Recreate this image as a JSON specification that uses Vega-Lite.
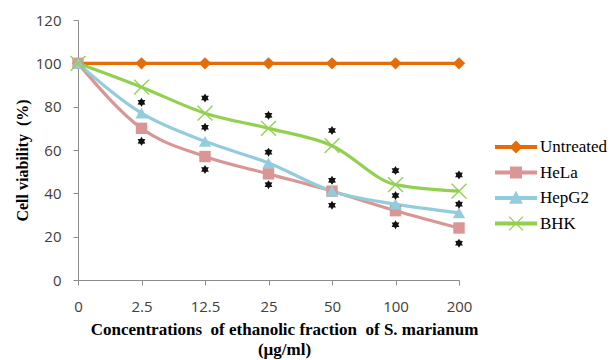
{
  "$schema": "https://vega.github.io/schema/vega-lite/v6.json",
  "width": 381,
  "height": 260,
  "autosize": {"type": "none"},
  "padding": {"left": 78, "top": 20, "right": 152, "bottom": 80},
  "background": "white",
  "config": {"view": {"stroke": null}},
  "datasets": {
    "main": [
      {"conc": "0", "series": "Untreated", "v": 100},
      {"conc": "2.5", "series": "Untreated", "v": 100},
      {"conc": "12.5", "series": "Untreated", "v": 100},
      {"conc": "25", "series": "Untreated", "v": 100},
      {"conc": "50", "series": "Untreated", "v": 100},
      {"conc": "100", "series": "Untreated", "v": 100},
      {"conc": "200", "series": "Untreated", "v": 100},
      {"conc": "0", "series": "HeLa", "v": 100},
      {"conc": "2.5", "series": "HeLa", "v": 70},
      {"conc": "12.5", "series": "HeLa", "v": 57},
      {"conc": "25", "series": "HeLa", "v": 49},
      {"conc": "50", "series": "HeLa", "v": 41},
      {"conc": "100", "series": "HeLa", "v": 32},
      {"conc": "200", "series": "HeLa", "v": 24},
      {"conc": "0", "series": "HepG2", "v": 100},
      {"conc": "2.5", "series": "HepG2", "v": 77},
      {"conc": "12.5", "series": "HepG2", "v": 64},
      {"conc": "25", "series": "HepG2", "v": 54},
      {"conc": "50", "series": "HepG2", "v": 41},
      {"conc": "100", "series": "HepG2", "v": 35},
      {"conc": "200", "series": "HepG2", "v": 31},
      {"conc": "0", "series": "BHK", "v": 100},
      {"conc": "2.5", "series": "BHK", "v": 89},
      {"conc": "12.5", "series": "BHK", "v": 77},
      {"conc": "25", "series": "BHK", "v": 70},
      {"conc": "50", "series": "BHK", "v": 62},
      {"conc": "100", "series": "BHK", "v": 44},
      {"conc": "200", "series": "BHK", "v": 41}
    ],
    "stars": [
      {"conc": "2.5", "v": 82},
      {"conc": "2.5", "v": 64},
      {"conc": "12.5", "v": 84},
      {"conc": "12.5", "v": 70.5},
      {"conc": "12.5", "v": 51},
      {"conc": "25", "v": 76},
      {"conc": "25", "v": 59},
      {"conc": "25", "v": 44},
      {"conc": "50", "v": 69},
      {"conc": "50", "v": 46},
      {"conc": "50", "v": 34.5},
      {"conc": "100", "v": 50.5},
      {"conc": "100", "v": 39},
      {"conc": "100", "v": 25.5},
      {"conc": "200", "v": 48.5},
      {"conc": "200", "v": 35},
      {"conc": "200", "v": 17}
    ]
  },
  "encoding": {
    "x": {
      "field": "conc",
      "type": "ordinal",
      "sort": ["0", "2.5", "12.5", "25", "50", "100", "200"],
      "scale": {"type": "point", "padding": 0},
      "axis": {
        "title": ["Concentrations\u00a0 of ethanolic fraction\u00a0 of S. marianum", "(µg/ml)"],
        "titleFont": "Liberation Serif",
        "titleFontWeight": "bold",
        "titleFontSize": 17,
        "titleColor": "black",
        "titleLineHeight": 20,
        "titleX": 206,
        "titleAlign": "center",
        "titlePadding": 7,
        "labelFont": "Open Sans",
        "labelFontSize": 15,
        "labelColor": "#404040",
        "labelAngle": 0,
        "labelPadding": 14,
        "domainColor": "#8c8c8c",
        "tickColor": "#8c8c8c",
        "tickSize": 5,
        "grid": false
      }
    },
    "y": {
      "field": "v",
      "type": "quantitative",
      "scale": {"domain": [0, 120], "nice": false, "zero": true},
      "axis": {
        "values": [0, 20, 40, 60, 80, 100, 120],
        "title": "Cell viability\u00a0 (%)",
        "titleFont": "Liberation Serif",
        "titleFontWeight": "bold",
        "titleFontSize": 16,
        "titleColor": "black",
        "titleX": -56,
        "titleY": 140,
        "titleAlign": "center",
        "titleBaseline": "middle",
        "labelFont": "Open Sans",
        "labelFontSize": 15,
        "labelColor": "#404040",
        "labelPadding": 12,
        "domainColor": "#8c8c8c",
        "tickColor": "#8c8c8c",
        "tickSize": 5,
        "grid": false
      }
    }
  },
  "layer": [
    {
      "data": {"name": "main"},
      "transform": [{"filter": "datum.conc == '0'"}],
      "mark": {"type": "point", "filled": true, "opacity": 0},
      "encoding": {
        "color": {
          "field": "series",
          "type": "nominal",
          "scale": {"domain": ["Untreated", "HeLa", "HepG2", "BHK"], "range": ["#E46C0A", "#D99694", "#93CDDD", "#92D050"]},
          "legend": {"title": null, "orient": "none", "legendX": 427.5, "legendY": 116.5, "symbolSize": 441, "symbolOpacity": 1, "symbolStrokeWidth": 0, "labelFont": "Liberation Serif", "labelFontSize": 17, "labelColor": "black", "labelOffset": 13.5, "rowPadding": 6.5}
        },
        "shape": {
          "field": "series",
          "type": "nominal",
          "scale": {
            "domain": ["Untreated", "HeLa", "HepG2", "BHK"],
            "range": [
              "M-2,-0.19H2V0.19H-2Z M0,-0.62L0.62,0L0,0.62L-0.62,0Z",
              "M-2,-0.19H2V0.19H-2Z M-0.57,-0.57H0.57V0.57H-0.57Z",
              "M-2,-0.19H2V0.19H-2Z M0,-0.68L0.66,0.55H-0.66Z",
              "M-2,-0.19H2V0.19H-2Z M-0.7,-0.62L-0.62,-0.7L0.7,0.62L0.62,0.7Z M0.62,-0.7L0.7,-0.62L-0.62,0.7L-0.7,0.62Z"
            ]
          },
          "legend": {"title": null, "orient": "none", "legendX": 427.5, "legendY": 116.5, "symbolSize": 441, "symbolOpacity": 1, "symbolStrokeWidth": 0, "labelFont": "Liberation Serif", "labelFontSize": 17, "labelColor": "black", "labelOffset": 13.5, "rowPadding": 6.5}
        }
      }
    },
    {
      "data": {"name": "main"},
      "mark": {"type": "line", "strokeWidth": 3.2, "interpolate": "monotone"},
      "encoding": {
        "color": {"field": "series", "type": "nominal", "legend": null}
      }
    },
    {
      "data": {"name": "main"},
      "transform": [{"filter": "datum.series == 'Untreated'"}],
      "mark": {"type": "point", "shape": "diamond", "filled": true, "opacity": 1, "color": "#E46C0A", "size": 150}
    },
    {
      "data": {"name": "main"},
      "transform": [{"filter": "datum.series == 'HeLa'"}],
      "mark": {"type": "point", "shape": "square", "filled": true, "opacity": 1, "color": "#D99694", "size": 130}
    },
    {
      "data": {"name": "main"},
      "transform": [{"filter": "datum.series == 'HepG2'"}],
      "mark": {"type": "point", "shape": "triangle-up", "filled": true, "opacity": 1, "color": "#93CDDD", "size": 150}
    },
    {
      "data": {"name": "main"},
      "transform": [{"filter": "datum.series == 'BHK'"}],
      "mark": {"type": "point", "shape": "M-1,-1L1,1M-1,1L1,-1", "filled": false, "opacity": 1, "color": "#92D050", "strokeWidth": 1.3, "size": 220}
    },
    {
      "data": {"name": "stars"},
      "mark": {"type": "point", "shape": "M0,-1 L0.3,-0.52 L0.866,-0.5 L0.6,0 L0.866,0.5 L0.3,0.52 L0,1 L-0.3,0.52 L-0.866,0.5 L-0.6,0 L-0.866,-0.5 L-0.3,-0.52 Z", "filled": true, "opacity": 1, "color": "#111111", "size": 80}
    }
  ]
}
